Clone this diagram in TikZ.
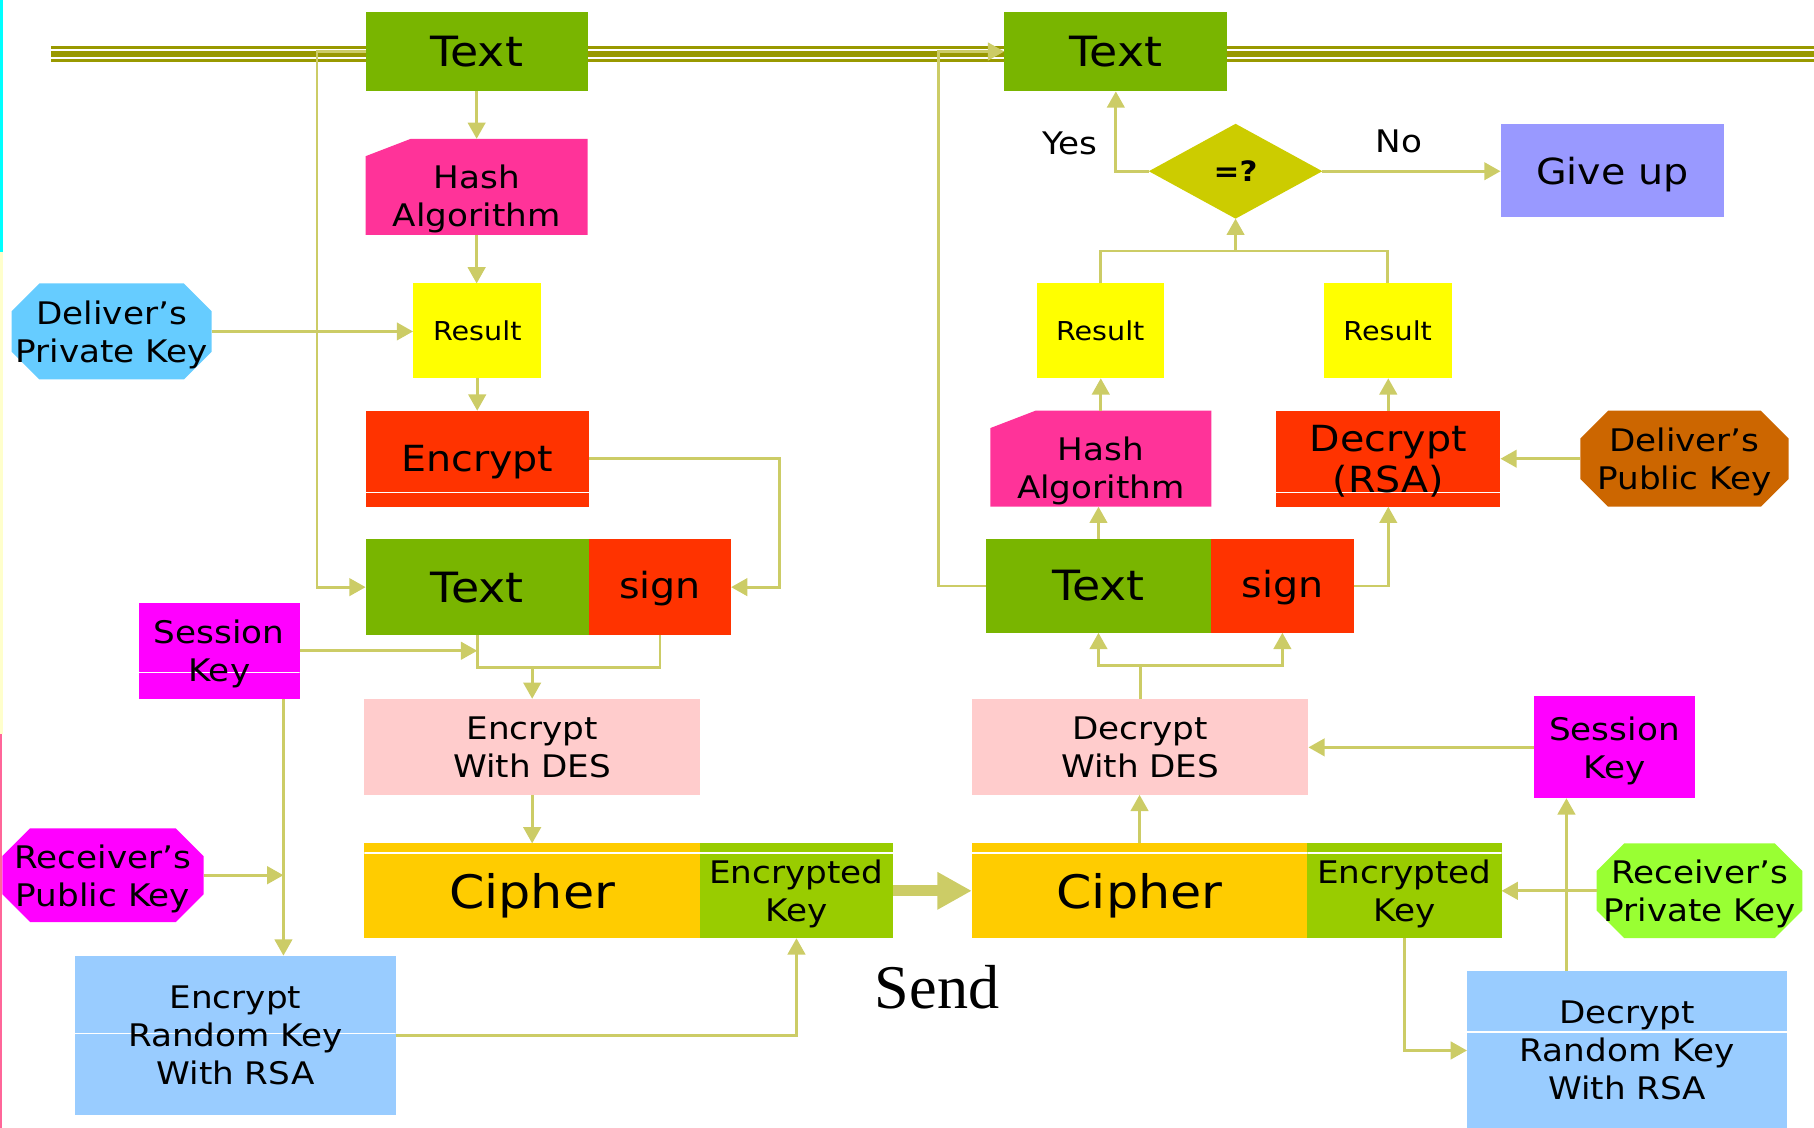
\documentclass[tikz,border=0pt]{standalone}
\usepackage{fontspec}
\setmainfont[FakeStretch=1.1]{DejaVu Sans}
\newfontfamily\sendfont{Liberation Serif}
\usetikzlibrary{arrows.meta}
\usetikzlibrary{positioning}
\usetikzlibrary{shapes.geometric}

\definecolor{railc}{HTML}{999900}
\definecolor{linkc}{HTML}{CCCC66}
\definecolor{txtgreen}{HTML}{79B500}
\definecolor{signred}{HTML}{FF3300}
\definecolor{hashpink}{HTML}{FF3399}
\definecolor{resyellow}{HTML}{FFFF00}
\definecolor{skyblue}{HTML}{66CCFF}
\definecolor{keymag}{HTML}{FF00FF}
\definecolor{despink}{HTML}{FFCCCC}
\definecolor{cipheryel}{HTML}{FFCC00}
\definecolor{keygreen}{HTML}{99CC00}
\definecolor{rsablue}{HTML}{99CCFF}
\definecolor{cmpyel}{HTML}{CCCC00}
\definecolor{giveblue}{HTML}{9999FF}
\definecolor{pubbrown}{HTML}{CC6600}
\definecolor{privgreen}{HTML}{99FF33}
\definecolor{edgecyan}{HTML}{00FFFF}
\definecolor{edgeyel}{HTML}{FFFFCC}
\definecolor{edgepink}{HTML}{FF6699}

\begin{document}
\begin{tikzpicture}[x=0.02cm, y=-0.02cm,
    >={Triangle[length=8pt,width=8.6pt]},
    every node/.style={inner sep=0pt, outer sep=0pt, align=center},
    boxsize/.style 2 args={minimum width=#1cm, minimum height=#2cm},
    ftext/.style={font=\fontsize{20.5}{24}\selectfont},
    fbig/.style={font=\fontsize{17.7}{20.4}\selectfont, text depth=0pt},
    fmid/.style={font=\fontsize{15.3}{18.7}\selectfont, text depth=0pt},
    fsmall/.style={font=\fontsize{12.8}{15}\selectfont},
    fcipher/.style={font=\fontsize{22.7}{26}\selectfont, text depth=0pt},
    link/.style={draw=linkc, line width=1.4pt, ->},
    wire/.style={draw=linkc, line width=1.4pt},
    bigarrow/.style={draw=linkc, line width=5.4pt, -{Triangle[length=17pt,width=17.4pt]}},
    whiteline/.style={path picture={\draw[white, line width=0.6pt]
      ([yshift=-#1]path picture bounding box.north west) --
      ([yshift=-#1]path picture bounding box.north east);}},
    octo/.style={path picture={\fill[#1]
      ([xshift=0.48cm]path picture bounding box.north west) --
      ([xshift=-0.48cm]path picture bounding box.north east) --
      ([yshift=-0.48cm]path picture bounding box.north east) --
      ([yshift=0.48cm]path picture bounding box.south east) --
      ([xshift=-0.48cm]path picture bounding box.south east) --
      ([xshift=0.48cm]path picture bounding box.south west) --
      ([yshift=0.48cm]path picture bounding box.south west) --
      ([yshift=-0.48cm]path picture bounding box.north west) -- cycle;}},
    cutcorner/.style={path picture={\fill[#1]
      ([yshift=-0.3cm]path picture bounding box.north west) --
      ([xshift=0.78cm]path picture bounding box.north west) --
      (path picture bounding box.north east) --
      (path picture bounding box.south east) --
      (path picture bounding box.south west) -- cycle;}}
  ]
  \useasboundingbox (0,0) rectangle (1568,975);

  \fill[edgecyan] (0,0) rectangle (2.6,217.5);
  \fill[edgeyel] (0,217.5) rectangle (2.6,634.6);
  \fill[edgepink] (0,634.6) rectangle (1.8,975);
  \draw[railc, line width=1.6pt] (44,40.9) -- (1568,40.9);
  \draw[railc, line width=2.8pt] (44,46.8) -- (1568,46.8);
  \draw[railc, line width=1.6pt] (44,52.4) -- (1568,52.4);

  % sender
  \node[boxsize={3.84}{1.38}, fill=txtgreen, ftext] (txtA) at (412,44.5) {Text};
  \node[boxsize={3.84}{1.66}, cutcorner=hashpink, fmid] (hashA) at (412,161.5) {\rule{0pt}{20.4pt}Hash\\Algorithm};
  \node[boxsize={2.22}{1.64}, fill=resyellow, fsmall] (resA) at (412.5,286) {Result};
  \node[boxsize={3.46}{1.66}, octo=skyblue, fmid] (privD) at (96.5,286.5) {Deliver's\\Private Key};
  \node[boxsize={3.86}{1.66}, fill=signred, whiteline=1.41cm, fbig] (encA) at (412.5,396.5) {Encrypt};
  \node[boxsize={3.86}{1.66}, fill=txtgreen, ftext] (msgA) at (412.5,507.5) {Text};
  \node[boxsize={2.46}{1.66}, fill=signred, fbig, text depth=2pt, right=0pt of msgA] (sgnA) {sign};
  \node[boxsize={2.78}{1.66}, fill=keymag, whiteline=1.2cm, fmid] (sesA) at (189.5,562.5) {Session\\Key};
  \node[boxsize={5.8}{1.66}, fill=despink, fmid] (desA) at (460,645.5) {Encrypt\\With DES};
  \node[boxsize={3.48}{1.62}, octo=keymag, fmid] (pubR) at (89,756.5) {Receiver's\\Public Key};
  \node[boxsize={5.8}{1.64}, fill=cipheryel, whiteline=0.166cm, fcipher] (cphA) at (460,770) {Cipher};
  \node[boxsize={3.34}{1.64}, fill=keygreen, whiteline=0.166cm, fmid, right=0pt of cphA] (ekeyA) {Encrypted\\Key};
  \node[boxsize={5.54}{2.76}, fill=rsablue, whiteline=1.34cm, fmid] (rsaA) at (203.5,895) {Encrypt\\Random Key\\With RSA};

  % receiver
  \node[boxsize={3.86}{1.38}, fill=txtgreen, ftext] (txtB) at (964.5,44.5) {Text};
  \node[diamond, aspect=1.83, minimum width=3cm, minimum height=1.64cm, fill=cmpyel,
    font=\fontsize{13.8}{16}\selectfont\bfseries] (cmp) at (1068,148) {=?};
  \node[boxsize={3.86}{1.62}, fill=giveblue, fbig] (giveup) at (1393.5,147.5) {Give up};
  \node[boxsize={2.2}{1.64}, fill=resyellow, fsmall] (resB1) at (951,286) {Result};
  \node[boxsize={2.22}{1.64}, fill=resyellow, fsmall] (resB2) at (1199.5,286) {Result};
  \node[boxsize={3.82}{1.66}, cutcorner=hashpink, fmid] (hashB) at (951.5,396.5) {\rule{0pt}{20.4pt}Hash\\Algorithm};
  \node[boxsize={3.88}{1.66}, fill=signred, whiteline=1.41cm, fbig] (decB) at (1200,396.5) {Decrypt\\(RSA)};
  \node[boxsize={3.6}{1.66}, octo=pubbrown, fmid] (pubD) at (1456,396.5) {Deliver's\\Public Key};
  \node[boxsize={3.9}{1.62}, fill=txtgreen, ftext] (msgB) at (949.5,506.5) {Text};
  \node[boxsize={2.46}{1.62}, fill=signred, fbig, text depth=2pt, right=0pt of msgB] (sgnB) {sign};
  \node[boxsize={5.82}{1.66}, fill=despink, fmid] (desB) at (985.5,645.5) {Decrypt\\With DES};
  \node[boxsize={2.78}{1.76}, fill=keymag, fmid] (sesB) at (1395.5,646) {Session\\Key};
  \node[boxsize={5.8}{1.64}, fill=cipheryel, whiteline=0.166cm, fcipher] (cphB) at (985,770) {Cipher};
  \node[boxsize={3.36}{1.64}, fill=keygreen, whiteline=0.166cm, fmid, right=0pt of cphB] (ekeyB) {Encrypted\\Key};
  \node[boxsize={3.56}{1.64}, octo=privgreen, fmid] (privR) at (1469,770) {Receiver's\\Private Key};
  \node[boxsize={5.54}{2.76}, fill=rsablue, whiteline=1.06cm, fmid] (rsaB) at (1406.5,908) {Decrypt\\Random Key\\With RSA};

  \node[fmid] (yes) at (925,124) {Yes};
  \node[fmid] (no) at (1209,122) {No};
  \node[font=\sendfont\fontsize{30.6}{34}\selectfont] (send) at (810,853) {Send};

  \coordinate (join_a) at ([yshift=-0.56cm]msgA.south);
  \coordinate (key_a) at ([xshift=-0.28cm]sesA.south east);
  \coordinate (join_b) at ([yshift=0.56cm]resB1.north);
  \coordinate (split_b) at ([yshift=0.58cm]desB.north);
  \coordinate (key_b) at ([xshift=0.56cm]sesB.south west);

  \draw[link] (txtA.south) -- (txtA.south |- hashA.north);
  \draw[link] (hashA.south) -- (hashA.south |- resA.north);
  \draw[link] (privD.east) -- (privD.east -| resA.west);
  \draw[link] (resA.south) -- (resA.south |- encA.north);
  \draw[link] (txtA.west) -- ++(-42,0) |- (msgA.west);
  \draw[link] (encA.east) -- ++(165,0) |- (sgnA.east);
  \draw[link] (sesA.east) -- (sesA.east -| msgA.south);
  \draw[wire] (msgA.south) -- (join_a) -| (sgnA.south);
  \draw[link] (desA.north |- join_a) -- (desA.north);
  \draw[link] (key_a) -- (key_a |- rsaA.north);
  \draw[link] (pubR.east) -- (pubR.east -| key_a);
  \draw[link] (desA.south) -- (cphA.north);
  \draw[link] (rsaA.east) -| (ekeyA.south);
  \draw[bigarrow] (ekeyA.east) -- (cphB.west);

  \draw[link] (msgB.west) -- ++(-41,0) |- (txtB.west);
  \draw[link] (cmp.west) -| (txtB.south);
  \draw[link] (cmp.east) -- (cmp.east -| giveup.west);
  \draw[wire] (resB1.north) -- (join_b) -| (resB2.north);
  \draw[link] (cmp.south |- join_b) -- (cmp.south);
  \draw[link] (hashB.north) -- (hashB.north |- resB1.south);
  \draw[link] (decB.north) -- (decB.north |- resB2.south);
  \draw[link] (pubD.west) -- (decB.east);
  \draw[link] (msgB.north) -- (msgB.north |- hashB.south);
  \draw[link] (sgnB.east) -| (decB.south);
  \draw[wire] (desB.north) -- (split_b);
  \draw[link] (split_b) -| (msgB.south);
  \draw[link] (split_b) -| (sgnB.south);
  \draw[link] (sesB.west) -- (sesB.west -| desB.east);
  \draw[link] (cphB.north) -- (cphB.north |- desB.south);
  \draw[link] (privR.west) -- (ekeyB.east);
  \draw[link] (key_b |- rsaB.north) -- (key_b);
  \draw[link] (ekeyB.south) |- (rsaB.west);
\end{tikzpicture}
\end{document}
